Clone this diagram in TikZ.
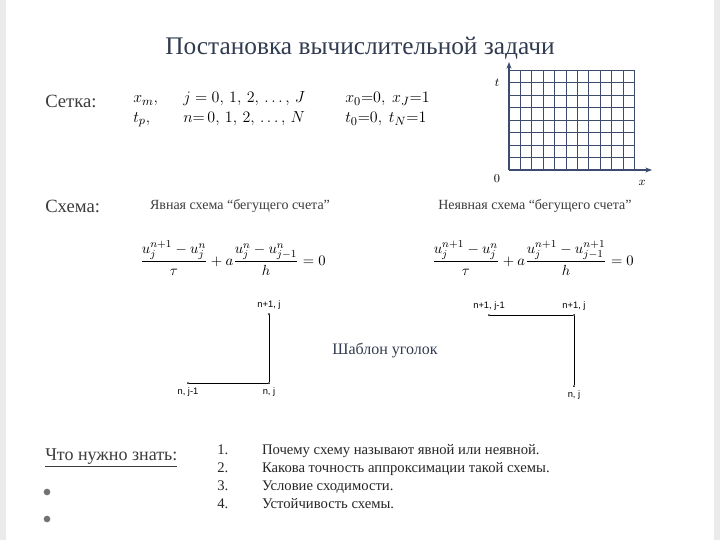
\documentclass[tikz,border=0pt]{standalone}
\usepackage{fontspec}
\setmainfont{Liberation Serif}
\setsansfont{Liberation Sans}
\usetikzlibrary{arrows.meta}
\definecolor{ttl}{RGB}{50,60,80}
\definecolor{lbl}{RGB}{60,60,60}
\definecolor{gridc}{RGB}{60,75,110}
\tikzset{lab/.style={text=lbl,font=\fontsize{14}{16}\selectfont,anchor=west,inner sep=0},
 pt/.style={font=\sffamily\fontsize{7}{8}\selectfont,inner sep=1pt},
 dot/.style={circle,fill=black,inner sep=0,minimum size=1.5pt},
 sub/.style={font=\fontsize{10.5}{12}\selectfont,text=lbl,inner sep=0},
 eq/.style={font=\fontsize{11}{13}\selectfont,inner sep=0},
 mt/.style={anchor=west,inner sep=0,font=\fontsize{12.5}{15}\selectfont},
 link/.style={black,line width=0.7pt}}
\begin{document}
\begin{tikzpicture}[x=0.75pt,y=-0.75pt]
\useasboundingbox[fill=white] (0,0) rectangle (720,540);
\fill[black!8] (0,0) rectangle (6,540);
\fill[black!8] (714,0) rectangle (720,540);
\node[text=ttl,font=\fontsize{19}{22}\selectfont] (title) at (360,48) {Постановка вычислительной задачи};
\node[lab] (setka) at (45,101) {Сетка:};
\node[lab] (shema) at (45,206) {Схема:};
\node[mt] (xm) at (133,101) {$x_m,$};
\node[mt] (tp) at (133,120) {$t_p,$};
\node[mt] (jr) at (183,99) {$j = 0,\,1,\,2,\,\ldots,\,J$};
\node[mt] (nr) at (183,119) {$n{=}\,0,\,1,\,2,\,\ldots,\,N$};
\node[mt] (xb) at (345,99) {$x_0{=}0,\ x_J{=}1$};
\node[mt] (tb) at (345,119) {$t_0{=}0,\ t_N{=}1$};
% grid
\foreach \i in {0,...,11} \draw[gridc,line width=0.6pt] (509+\i*11.4,70) -- (509+\i*11.4,170);
\foreach \j in {0,...,8} \draw[gridc,line width=0.6pt] (509,70+\j*12.5) -- (634,70+\j*12.5);
\coordinate (o) at (509,170);
\coordinate (xe) at (652,170);
\coordinate (te) at (509,62);
\draw[gridc,line width=0.9pt,-{Stealth[length=5pt]}] (o) -- (xe);
\draw[gridc,line width=0.9pt,-{Stealth[length=5pt]}] (o) -- (te);
\node[font=\itshape\small] (tl) at (497,83) {$t$};
\node[font=\itshape\small] (ol) at (497,179) {$0$};
\node[font=\itshape\small] (xl) at (642,183) {$x$};
\node[sub] (ex) at (240,206) {Явная схема “бегущего счета”};
\node[sub] (im) at (535,206) {Неявная схема “бегущего счета”};
\node[eq] (eq1) at (233,258) {$\displaystyle\frac{u_j^{n+1}-u_j^{n}}{\tau}+a\frac{u_j^{n}-u_{j-1}^{n}}{h}=0$};
\node[eq] (eq2) at (533,258) {$\displaystyle\frac{u_j^{n+1}-u_j^{n}}{\tau}+a\frac{u_j^{n+1}-u_{j-1}^{n+1}}{h}=0$};
% left stencil
\node[dot] (a1) at (269,314) {};
\node[dot] (a2) at (269,383) {};
\node[dot] (a3) at (188,383) {};
\node[pt,above=2pt] at (a1) {n+1, j};
\node[pt,below=2pt] at (a2) {n, j};
\node[pt,below=2pt] at (a3) {n, j-1};
\draw[link] (a1) -- (a2);
\draw[link] (a3) -- (a2);
% right stencil
\node[dot] (b1) at (489,315) {};
\node[dot] (b2) at (574,315) {};
\node[dot] (b3) at (574,386) {};
\node[pt,above=2pt] at (b1) {n+1, j-1};
\node[pt,above=2pt] at (b2) {n+1, j};
\node[pt,below=2pt] at (b3) {n, j};
\draw[link] (b1) -- (b2);
\draw[link] (b2) -- (b3);
\node[text=ttl,font=\fontsize{12}{14}\selectfont] (shab) at (385,350) {Шаблон уголок};
\node[lab,font=\fontsize{13.5}{16}\selectfont] (know) at (45,458) {\underline{Что нужно знать:}};
\node[anchor=north west,inner sep=0,font=\fontsize{11}{13.5}\selectfont,text=black!85,align=left] (list) at (217,444)
 {1.\hspace{2.3em}Почему схему называют явной или неявной.\\
  2.\hspace{2.3em}Какова точность аппроксимации такой схемы.\\
  3.\hspace{2.3em}Условие сходимости.\\
  4.\hspace{2.3em}Устойчивость схемы.};
\node[circle,fill=black!55,inner sep=0,minimum size=5pt] (d1) at (47,492) {};
\node[circle,fill=black!55,inner sep=0,minimum size=5pt] (d2) at (47,519) {};
\end{tikzpicture}
\end{document}
